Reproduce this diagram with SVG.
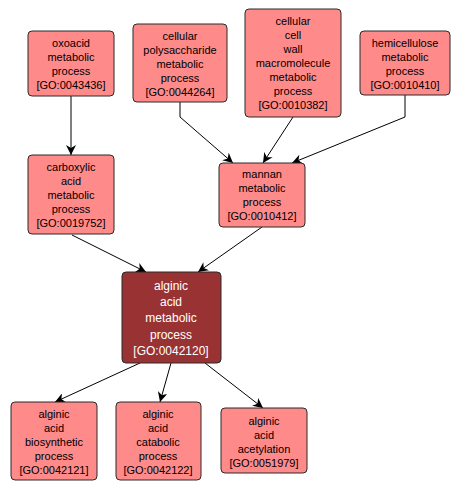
<svg xmlns="http://www.w3.org/2000/svg" width="459" height="492" viewBox="0 0 459 492">
<defs>
<style>
.n rect{fill:#ff8a8a;stroke:#2a2a2a;stroke-width:1}
.n text{font-family:"Liberation Sans",Arial,sans-serif;font-size:11px;fill:#000;text-anchor:middle}
#n7 rect{fill:#993333;stroke:#2a2a2a}
#n7 text{fill:#fff;font-size:12px}
.e{fill:none;stroke:#000;stroke-width:1;marker-end:url(#ah)}
</style>
<marker id="ah" viewBox="0 0 10 10" refX="10" refY="5" markerWidth="10" markerHeight="10" markerUnits="userSpaceOnUse" orient="auto">
<path d="M0,0 L10,5 L0,10 L3,5 Z" fill="#000"/>
</marker>
</defs>
<rect width="459" height="492" fill="#fff"/>
<g id="edges">
<path class="e" d="M71,96 L71,155"/>
<path class="e" d="M180,102 L180,117 L233,163"/>
<path class="e" d="M293,117 L263,163"/>
<path class="e" d="M405,95 L405,117 L292,163"/>
<path class="e" d="M72,235 L146,272"/>
<path class="e" d="M262,227 L198,272"/>
<path class="e" d="M140,363 L55,402"/>
<path class="e" d="M171,363 L160,402"/>
<path class="e" d="M205,363 L263,408"/>
</g>
<g id="n1" class="n"><rect x="28" y="31" width="86" height="65" rx="4"/>
<text x="71" y="47">oxoacid</text><text x="71" y="61">metabolic</text><text x="71" y="75">process</text><text x="71" y="89">[GO:0043436]</text></g>
<g id="n2" class="n"><rect x="133" y="24" width="94" height="78" rx="4"/>
<text x="180" y="40">cellular</text><text x="180" y="54">polysaccharide</text><text x="180" y="68">metabolic</text><text x="180" y="82">process</text><text x="180" y="96">[GO:0044264]</text></g>
<g id="n3" class="n"><rect x="245" y="9" width="96" height="108" rx="4"/>
<text x="293" y="25">cellular</text><text x="293" y="39">cell</text><text x="293" y="53">wall</text><text x="293" y="67">macromolecule</text><text x="293" y="81">metabolic</text><text x="293" y="95">process</text><text x="293" y="109">[GO:0010382]</text></g>
<g id="n4" class="n"><rect x="360" y="31" width="90" height="64" rx="4"/>
<text x="405" y="47">hemicellulose</text><text x="405" y="61">metabolic</text><text x="405" y="75">process</text><text x="405" y="89">[GO:0010410]</text></g>
<g id="n5" class="n"><rect x="28" y="155" width="86" height="79" rx="4"/>
<text x="71" y="171">carboxylic</text><text x="71" y="185">acid</text><text x="71" y="199">metabolic</text><text x="71" y="213">process</text><text x="71" y="227">[GO:0019752]</text></g>
<g id="n6" class="n"><rect x="219" y="163" width="86" height="64" rx="4"/>
<text x="262" y="178">mannan</text><text x="262" y="192">metabolic</text><text x="262" y="206">process</text><text x="262" y="220">[GO:0010412]</text></g>
<g id="n7" class="n"><rect x="122" y="272" width="99" height="91" rx="4"/>
<text x="171" y="290">alginic</text><text x="171" y="306">acid</text><text x="171" y="322">metabolic</text><text x="171" y="339">process</text><text x="171" y="355">[GO:0042120]</text></g>
<g id="n8" class="n"><rect x="11" y="402" width="86" height="78" rx="4"/>
<text x="54" y="418">alginic</text><text x="54" y="432">acid</text><text x="54" y="446">biosynthetic</text><text x="54" y="460">process</text><text x="54" y="474">[GO:0042121]</text></g>
<g id="n9" class="n"><rect x="116" y="402" width="85" height="78" rx="4"/>
<text x="158" y="418">alginic</text><text x="158" y="432">acid</text><text x="158" y="446">catabolic</text><text x="158" y="460">process</text><text x="158" y="474">[GO:0042122]</text></g>
<g id="n10" class="n"><rect x="221" y="408" width="86" height="65" rx="4"/>
<text x="264" y="425">alginic</text><text x="264" y="439">acid</text><text x="264" y="453">acetylation</text><text x="264" y="467">[GO:0051979]</text></g>
</svg>
